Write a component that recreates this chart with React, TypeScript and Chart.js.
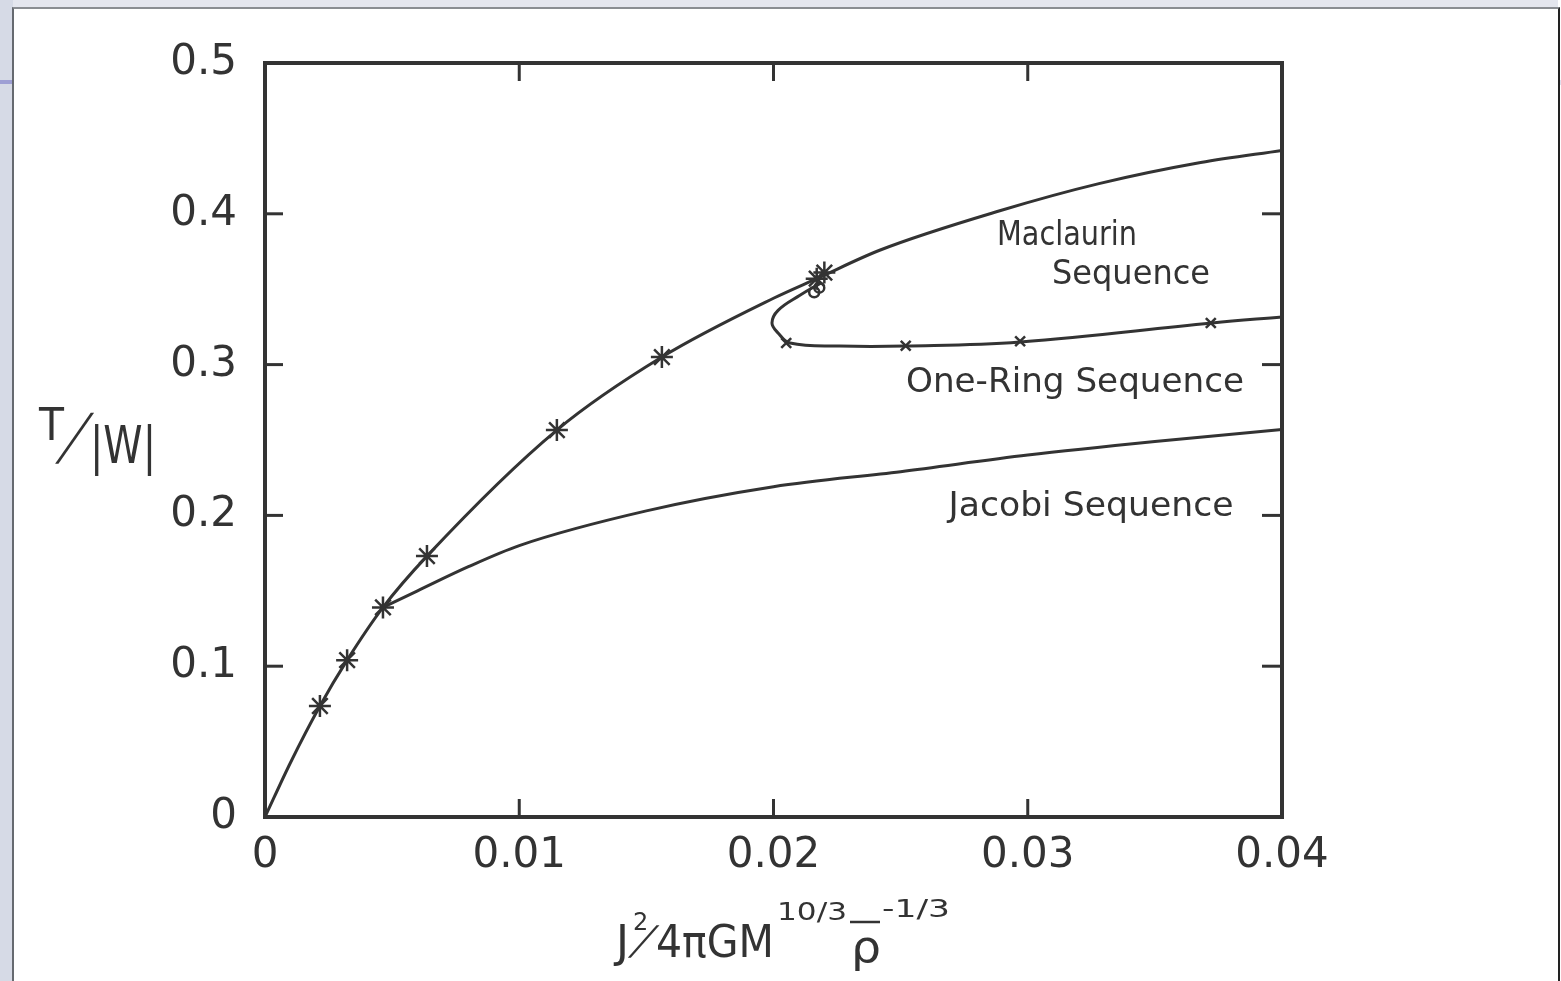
import React, { useEffect, useRef } from "react";
import { Chart, registerables } from "chart.js";
Chart.register(...registerables);

// ---- data ----
const xTicks = [0, 0.01, 0.02, 0.03, 0.04];
const xTickLabels = ["0", "0.01", "0.02", "0.03", "0.04"];
const yTicks = [0, 0.1, 0.2, 0.3, 0.4, 0.5];
const yTickLabels = ["0", "0.1", "0.2", "0.3", "0.4", "0.5"];

const maclaurinX = [0, 0.001, 0.00216, 0.00323, 0.00464, 0.00637, 0.01148, 0.01561, 0.02, 0.0217, 0.0242, 0.0289, 0.0328, 0.0368, 0.04];
const maclaurinY = [0, 0.036, 0.0736, 0.104, 0.139, 0.173, 0.2566, 0.305, 0.344, 0.357, 0.376, 0.402, 0.42, 0.434, 0.442];

const maclaurinMarkX = [0.00216, 0.00323, 0.00464, 0.00637, 0.01148, 0.01561, 0.0217, 0.022];
const maclaurinMarkY = [0.0736, 0.104, 0.139, 0.173, 0.2566, 0.305, 0.357, 0.361];

const jacobiX = [0.00464, 0.006, 0.008, 0.01, 0.015, 0.02, 0.025, 0.03, 0.035, 0.04];
const jacobiY = [0.139, 0.15, 0.166, 0.18, 0.203, 0.219, 0.229, 0.24, 0.249, 0.257];

const ringX = [0.02185, 0.02104, 0.02018, 0.01994, 0.02018, 0.02065, 0.0226, 0.02517, 0.0297, 0.03725, 0.04];
const ringY = [0.354, 0.346, 0.336, 0.3276, 0.321, 0.3143, 0.3123, 0.3123, 0.315, 0.3276, 0.3316];

const ringMarkX = [0.0205, 0.0252, 0.0297, 0.0372];
const ringMarkY = [0.3143, 0.3125, 0.3155, 0.3276];

const circleMarkX = [0.0218, 0.0216];
const circleMarkY = [0.351, 0.348];

const toPts = (xs: number[], ys: number[]) => xs.map((x, i) => ({ x, y: ys[i] }));

const INK = "#333333";
const FONT = "DejaVu Sans";

function txt(
  ctx: CanvasRenderingContext2D,
  s: string,
  x: number,
  y: number,
  size: number,
  width?: number,
  align: CanvasTextAlign = "left",
  sy = 1,
  shear = 0
) {
  ctx.save();
  ctx.font = `${size}px "${FONT}"`;
  ctx.fillStyle = INK;
  ctx.textBaseline = "alphabetic";
  const w = ctx.measureText(s).width;
  const sx = width ? width / w : 1;
  let x0 = x;
  if (align === "center") x0 = x - (w * sx) / 2;
  ctx.translate(x0, y);
  if (shear) ctx.transform(1, 0, shear, 1, 0, 0);
  ctx.scale(sx, sy);
  ctx.textAlign = "left";
  ctx.fillText(s, 0, 0);
  ctx.restore();
}

const decorPlugin = {
  id: "decor",
  afterDatasetsDraw(chart: any) {
    const ctx: CanvasRenderingContext2D = chart.ctx;
    const { left, right, top, bottom } = chart.chartArea;
    const xs = chart.scales.x;
    const ys = chart.scales.y;
    ctx.save();
    ctx.strokeStyle = INK;
    ctx.lineWidth = 3;
    ctx.lineCap = "butt";
    const line = (a: number, b: number, c: number, d: number) => {
      ctx.beginPath();
      ctx.moveTo(a, b);
      ctx.lineTo(c, d);
      ctx.stroke();
    };
    xTicks.slice(1, -1).forEach((v) => {
      const px = xs.getPixelForValue(v);
      line(px, bottom, px, bottom - 18);
      line(px, top, px, top + 18);
    });
    yTicks.slice(1, -1).forEach((v) => {
      const py = ys.getPixelForValue(v);
      line(left, py, left + 18, py);
      line(right, py, right - 20, py);
    });
    ctx.lineWidth = 4;
    ctx.strokeRect(left, top, right - left, bottom - top);
    ctx.restore();
  },
  afterDraw(chart: any) {
    const ctx: CanvasRenderingContext2D = chart.ctx;
    // series annotations
    txt(ctx, "Maclaurin", 1067, 245, 33, 140, "center");
    txt(ctx, "Sequence", 1131, 284, 33, 158, "center");
    txt(ctx, "One-Ring Sequence", 1075, 392, 33, 338, "center");
    txt(ctx, "Jacobi Sequence", 1091, 516, 33, 285, "center");
    // y-axis title  T/|W|
    txt(ctx, "T", 39, 440, 44, 25);
    txt(ctx, "/", 58, 458, 40, undefined, "left", 1.55, -0.5);
    txt(ctx, "|W|", 90, 463, 52, 66);
    // x-axis title  J²/4πGM^(10/3) ρ̄^(-1/3)
    txt(ctx, "J", 616, 957, 44);
    txt(ctx, "2", 633, 930, 24);
    txt(ctx, "/", 630, 954, 36, undefined, "left", 1.1, -0.6);
    txt(ctx, "4\u03c0GM", 656, 957, 44, 118);
    txt(ctx, "10/3", 777, 920, 24, 70);
    txt(ctx, "\u03c1", 851, 962, 44, 30);
    ctx.save();
    ctx.strokeStyle = INK;
    ctx.lineWidth = 2.5;
    ctx.beginPath();
    ctx.moveTo(850, 922);
    ctx.lineTo(880, 922);
    ctx.stroke();
    ctx.restore();
    txt(ctx, "-1/3", 882, 917, 24, 68);
  },
};

export default function App() {
  const ref = useRef<HTMLCanvasElement | null>(null);
  useEffect(() => {
    document.body.style.margin = "0";
    const canvas = ref.current!;
    const lineDs = (pts: any[], mode: "monotone" | "default") => ({
      data: pts,
      showLine: true,
      borderColor: INK,
      borderWidth: 3,
      pointRadius: 0,
      fill: false,
      tension: 0.4,
      cubicInterpolationMode: mode,
    });
    const markDs = (pts: any[], style: string, r: number) => ({
      data: pts,
      showLine: false,
      pointStyle: style,
      pointRadius: r,
      pointBorderColor: INK,
      pointBackgroundColor: "rgba(0,0,0,0)",
      pointBorderWidth: 2.5,
    });
    const chart = new Chart(canvas, {
      type: "scatter",
      data: {
        datasets: [
          lineDs(toPts(maclaurinX, maclaurinY), "monotone") as any,
          lineDs(toPts(jacobiX, jacobiY), "monotone") as any,
          lineDs(toPts(ringX, ringY), "default") as any,
          markDs(toPts(maclaurinMarkX, maclaurinMarkY), "star", 11) as any,
          markDs(toPts(ringMarkX, ringMarkY), "crossRot", 7) as any,
          markDs(toPts(circleMarkX, circleMarkY), "circle", 5) as any,
        ],
      },
      options: {
        animation: false,
        responsive: false,
        devicePixelRatio: 1,
        layout: { padding: { left: 0, top: 63, right: 279, bottom: 0 } },
        plugins: { legend: { display: false }, tooltip: { enabled: false } },
        scales: {
          x: {
            type: "linear",
            min: 0,
            max: 0.04,
            afterBuildTicks: (s: any) => {
              s.ticks = xTicks.map((v) => ({ value: v }));
            },
            afterFit: (s: any) => {
              s.height = 164;
            },
            grid: { display: false, drawTicks: false },
            border: { display: false },
            ticks: {
              padding: 14,
              color: INK,
              font: { family: FONT, size: 42 },
              maxRotation: 0,
              autoSkip: false,
              callback: (_v: any, i: number) => xTickLabels[i],
            },
          },
          y: {
            type: "linear",
            min: 0,
            max: 0.5,
            afterBuildTicks: (s: any) => {
              s.ticks = yTicks.map((v) => ({ value: v }));
            },
            afterFit: (s: any) => {
              s.width = 265;
            },
            grid: { display: false, drawTicks: false },
            border: { display: false },
            ticks: {
              padding: 28,
              color: INK,
              font: { family: FONT, size: 42 },
              autoSkip: false,
              callback: (_v: any, i: number) => yTickLabels[i],
            },
          },
        },
      },
      plugins: [decorPlugin],
    });
    return () => chart.destroy();
  }, []);

  return (
    <div style={{ position: "fixed", left: 0, top: 0, width: 1561, height: 981, background: "#ffffff", overflow: "hidden" }}>
      <div style={{ position: "absolute", left: 0, top: 0, width: 1558, height: 8, background: "#e4e6ee" }} />
      <div style={{ position: "absolute", left: 0, top: 0, width: 13, height: 981, background: "#d6dae6" }} />
      <div style={{ position: "absolute", left: 0, top: 80, width: 12, height: 4, background: "#9e9fd4" }} />
      <div style={{ position: "absolute", left: 1558, top: 80, width: 3, height: 5, background: "#dfe1ef" }} />
      <div
        style={{
          position: "absolute",
          left: 12,
          top: 7,
          width: 1544,
          height: 974,
          background: "#ffffff",
          borderLeft: "2px solid #666a70",
          borderTop: "2px solid #8a8d92",
          borderRight: "2px solid #222222",
        }}
      />
      <canvas ref={ref} width={1561} height={981} style={{ position: "absolute", left: 0, top: 0 }} />
    </div>
  );
}
